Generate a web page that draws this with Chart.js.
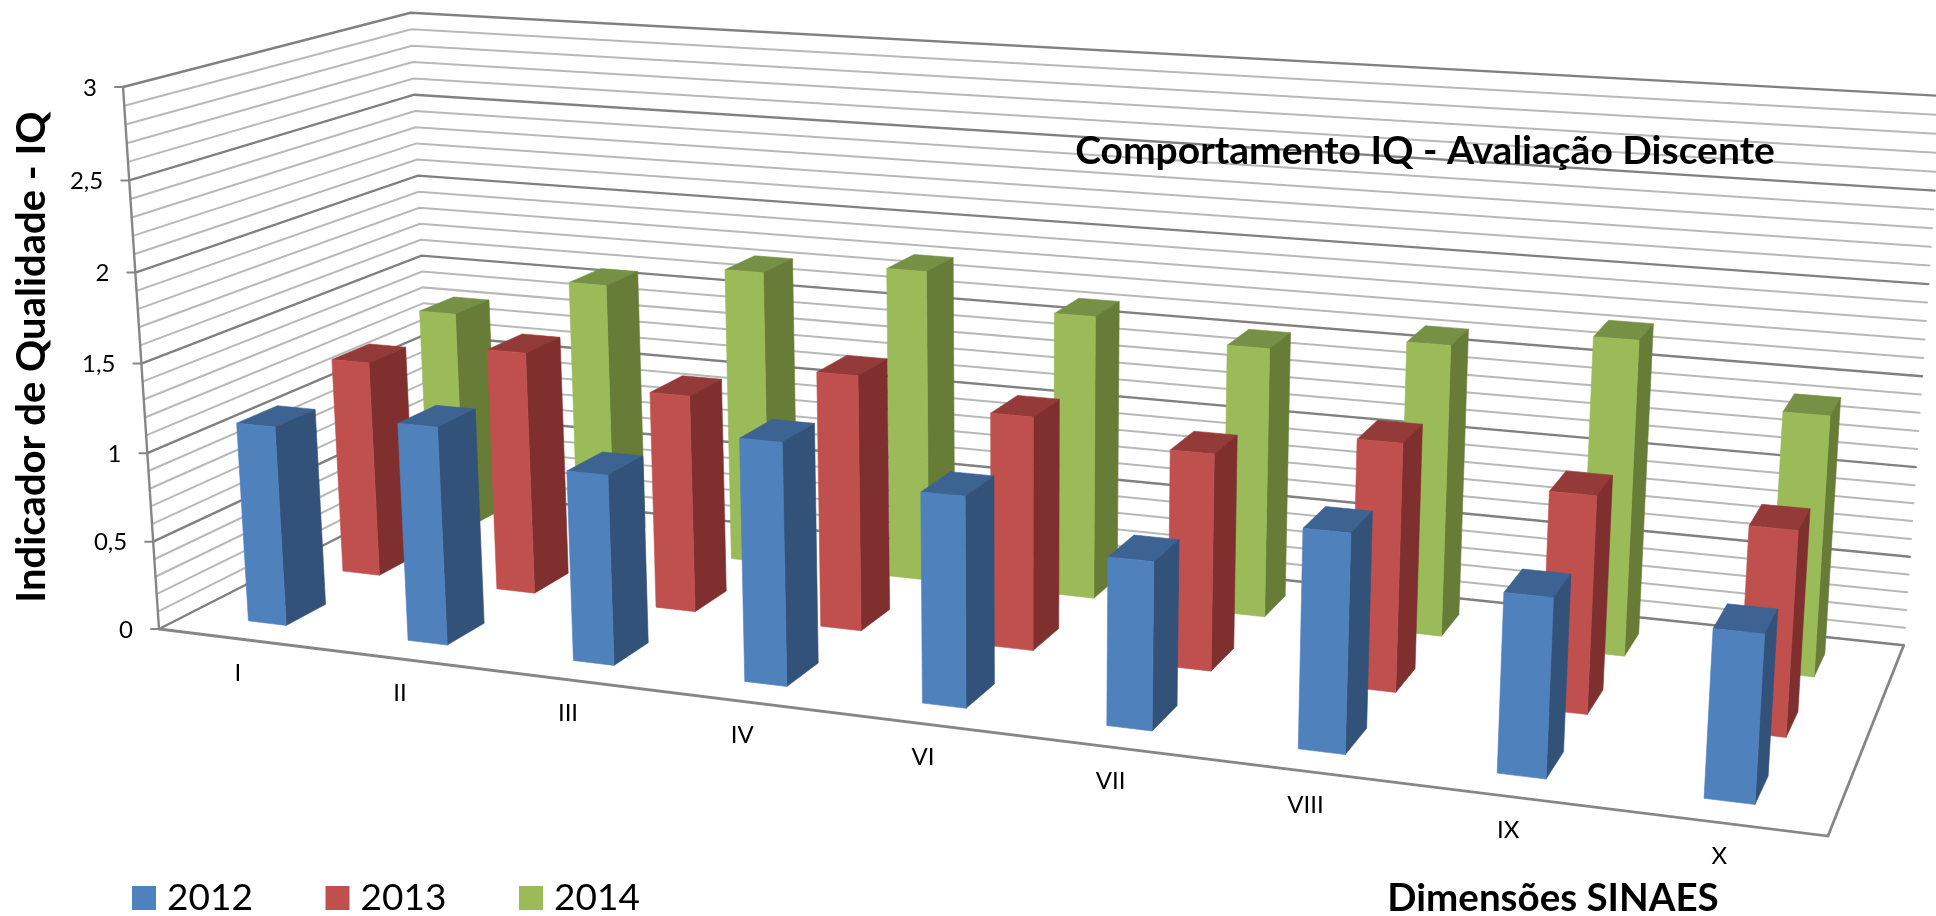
<!DOCTYPE html>
<html lang="pt">
<head>
<meta charset="utf-8">
<title>Comportamento IQ - Avaliação Discente</title>
<script src="https://cdn.jsdelivr.net/npm/chart.js@4"></script>
<style>
  html, body { margin: 0; padding: 0; background: #fff; overflow: hidden; }
  canvas { display: block; }
</style>
</head>
<body>
<canvas id="iqChart" width="1936" height="916"></canvas>
<script>
const categories = ['I', 'II', 'III', 'IV', 'VI', 'VII', 'VIII', 'IX', 'X'];
const series2012 = [1.13, 1.22, 1.05, 1.32, 1.13, 0.89, 1.14, 0.92, 0.85];
const series2013 = [1.26, 1.40, 1.24, 1.44, 1.30, 1.19, 1.34, 1.16, 1.08];
const series2014 = [1.33, 1.58, 1.73, 1.81, 1.63, 1.53, 1.63, 1.74, 1.42];
const yTickValues = [0, 0.5, 1, 1.5, 2, 2.5, 3];
const yTickLabels = ['0', '0,5', '1', '1,5', '2', '2,5', '3'];

const chartTitle = 'Comportamento IQ - Avaliação Discente';
const xAxisTitle = 'Dimensões SINAES';
const yAxisTitle = 'Indicador de Qualidade - IQ';

// perspective of the box: unit x (categories), t (value) and z (series depth) to canvas px
const view = {
  ox: 159, oy: 629,
  ax: 1383.8, ay: 76.6,
  bx: -40.9, by: -545.5,
  cx: 334.3, cy: -69.4,
  wx: -0.156, wt: -0.04, wz: 0.142,
};
const barDepth = 0.137;
const seriesFaces = [
  { front: '#4F81BD', side: '#32527A', top: '#3C6391' },
  { front: '#C0504D', side: '#7F2F2E', top: '#943A38' },
  { front: '#9BBB59', side: '#677C37', top: '#769045' },
];
const textFont = 'Lato, "Open Sans", sans-serif';

function project(x, t, z) {
  const w = 1 + view.wx * x + view.wt * t + view.wz * z;
  return {
    x: (view.ox + view.ax * x + view.bx * t + view.cx * z) / w,
    y: (view.oy + view.ay * x + view.by * t + view.cy * z) / w,
  };
}

function strokePath(ctx, points, color, width) {
  ctx.beginPath();
  points.forEach((p, i) => (i ? ctx.lineTo(p.x, p.y) : ctx.moveTo(p.x, p.y)));
  ctx.strokeStyle = color;
  ctx.lineWidth = width;
  ctx.stroke();
}

function fillFace(ctx, points, color) {
  ctx.beginPath();
  points.forEach((p, i) => (i ? ctx.lineTo(p.x, p.y) : ctx.moveTo(p.x, p.y)));
  ctx.closePath();
  ctx.fillStyle = color;
  ctx.strokeStyle = color;
  ctx.lineWidth = 0.6;
  ctx.fill();
  ctx.stroke();
}

function text(ctx, str, x, y, font, align) {
  ctx.font = font;
  ctx.fillStyle = '#000';
  ctx.textAlign = align || 'center';
  ctx.textBaseline = 'middle';
  ctx.fillText(str, x, y);
}

const box3d = {
  id: 'box3d',
  beforeDatasetsDraw(chart) {
    const { ctx, chartArea: area, scales } = chart;
    ctx.save();
    ctx.lineCap = 'round';

    // walls, one line per y tick of the library's scale
    scales.y.ticks.forEach((tick) => {
      const t = (area.bottom - scales.y.getPixelForValue(tick.value)) / area.height;
      const major = Math.round(tick.value * 10) % 5 === 0;
      strokePath(ctx, [project(0, t, 0), project(0, t, 1), project(1, t, 1)],
        major ? '#808080' : '#B8B8B8', major ? 2.4 : 2);
    });

    // axis, floor edges and y ticks
    strokePath(ctx, [project(0, 0, 0), project(0, 1, 0)], '#868686', 2.4);
    strokePath(ctx, [project(0, 0, 0), project(1, 0, 0), project(1, 0, 1)], '#868686', 2.8);
    yTickValues.forEach((value, i) => {
      const t = (area.bottom - scales.y.getPixelForValue(value)) / area.height;
      const p = project(0, t, 0);
      strokePath(ctx, [p, { x: p.x - 8, y: p.y }], '#868686', 2);
      text(ctx, yTickLabels[i], p.x - 26, p.y + 1, '24px ' + textFont, 'right');
    });

    // category labels under the front edge
    categories.forEach((label, i) => {
      const x = (scales.x.getPixelForTick(i) - area.left) / area.width;
      const p = project(x, 0, 0);
      text(ctx, label, p.x, p.y + 34, '24px ' + textFont);
    });

    text(ctx, chartTitle, 1425, 151, 'bold 39px ' + textFont);
    text(ctx, xAxisTitle, 1553, 899, 'bold 38.5px ' + textFont);

    ctx.save();
    ctx.translate(32, 357);
    ctx.rotate(-Math.PI / 2);
    text(ctx, yAxisTitle, 0, 0, 'bold 40px ' + textFont);
    ctx.restore();

    // legend
    chart.data.datasets.forEach((ds, i) => {
      const left = 132 + i * 193.5;
      ctx.fillStyle = ds.backgroundColor;
      ctx.fillRect(left, 886, 24, 24);
      text(ctx, ds.label, left + 35, 898, '37px ' + textFont, 'left');
    });
    ctx.restore();
  },
  beforeDatasetDraw(chart, args) {
    const { ctx, chartArea: area } = chart;
    const faces = seriesFaces[args.index];
    const zFront = (args.index + 0.5) / 3 - barDepth / 2;
    const zBack = zFront + barDepth;
    ctx.save();
    ctx.lineJoin = 'round';
    args.meta.data.forEach((bar) => {
      const x0 = (bar.x - bar.width / 2 - area.left) / area.width;
      const x1 = (bar.x + bar.width / 2 - area.left) / area.width;
      const t = (bar.base - bar.y) / area.height;
      fillFace(ctx, [project(x0, t, zFront), project(x1, t, zFront), project(x1, t, zBack), project(x0, t, zBack)], faces.top);
      fillFace(ctx, [project(x1, 0, zFront), project(x1, 0, zBack), project(x1, t, zBack), project(x1, t, zFront)], faces.side);
      fillFace(ctx, [project(x0, 0, zFront), project(x1, 0, zFront), project(x1, t, zFront), project(x0, t, zFront)], faces.front);
    });
    ctx.restore();
    return false;
  },
};

new Chart(document.getElementById('iqChart'), {
  type: 'bar',
  plugins: [box3d],
  data: {
    labels: categories,
    datasets: [
      { label: '2012', data: series2012, backgroundColor: seriesFaces[0].front },
      { label: '2013', data: series2013, backgroundColor: seriesFaces[1].front },
      { label: '2014', data: series2014, backgroundColor: seriesFaces[2].front },
    ],
  },
  options: {
    responsive: false,
    animation: false,
    devicePixelRatio: 1,
    layout: { padding: 0 },
    datasets: { bar: { grouped: false, barPercentage: 0.24, categoryPercentage: 1 } },
    plugins: { legend: { display: false }, title: { display: false }, tooltip: { enabled: false } },
    scales: {
      x: { display: false, ticks: { autoSkip: false } },
      y: { display: false, min: 0, max: 3, ticks: { stepSize: 0.1 } },
    },
  },
});
</script>
</body>
</html>
